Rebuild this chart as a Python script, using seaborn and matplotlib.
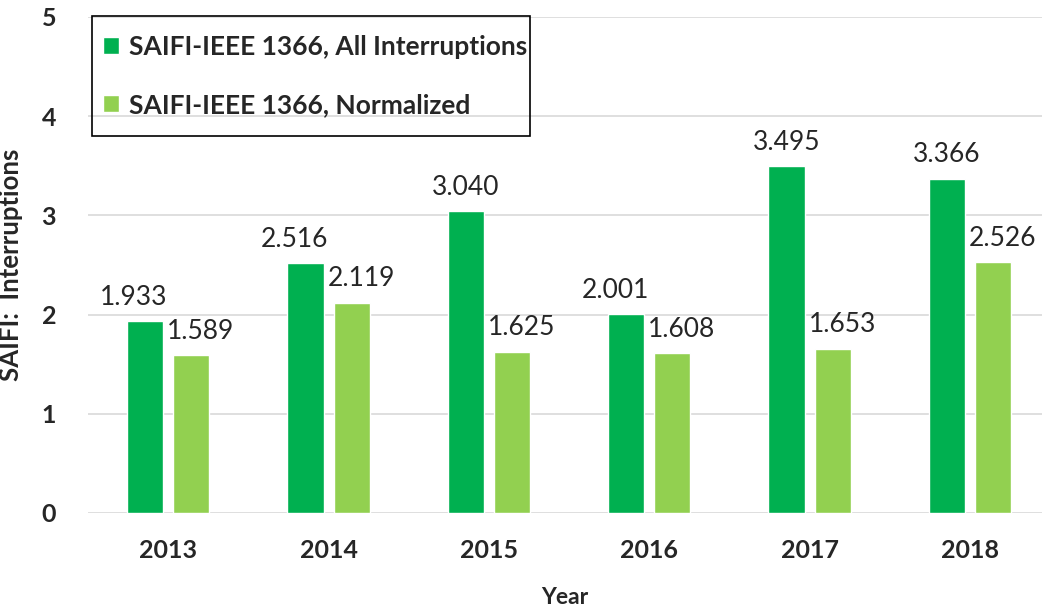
import numpy as np
import pandas as pd
import matplotlib
matplotlib.use("Agg")
import matplotlib.pyplot as plt
from matplotlib.patches import Rectangle
import seaborn as sns

years = ['2013', '2014', '2015', '2016', '2017', '2018']
all_interruptions = [1.933, 2.516, 3.040, 2.001, 3.495, 3.366]
normalized = [1.589, 2.119, 1.625, 1.608, 1.653, 2.526]
series_names = ['SAIFI-IEEE 1366, All Interruptions', 'SAIFI-IEEE 1366, Normalized']
series_colors = ['#00B050', '#92D050']

df = pd.DataFrame({
    'year': years * 2,
    'saifi': all_interruptions + normalized,
    'series': [series_names[0]] * len(years) + [series_names[1]] * len(years),
})

sns.set_theme(style="white")
plt.rcParams['font.family'] = ['Lato', 'DejaVu Sans']

fig = plt.figure(figsize=(10.42, 6.07), dpi=100)
ax = fig.add_axes([0.0845, 0.155, 0.9155, 0.817])

sns.barplot(data=df, x='year', y='saifi', hue='series', order=years,
            hue_order=series_names, palette=series_colors,
            width=0.575, gap=0.217, saturation=1, errorbar=None, ax=ax)

ax.set_ylim(0, 5)
ax.set_xlim(-0.5, 5.45)
ax.set_yticks(range(0, 6))
ax.yaxis.grid(True, color='#D9D9D9', linewidth=1.2)
ax.set_axisbelow(True)
for s in ax.spines.values():
    s.set_visible(False)
ax.tick_params(axis='both', length=0, labelsize=18)
ax.tick_params(axis='x', pad=19)
ax.tick_params(axis='y', pad=23)
for lbl in ax.get_xticklabels() + ax.get_yticklabels():
    lbl.set_fontweight('bold')

ax.set_xlabel('Year', fontsize=16.5, fontweight='bold', labelpad=18)
ax.set_ylabel('SAIFI:  Interruptions', fontsize=18.5, fontweight='bold', labelpad=13)

# value labels; push apart the pairs whose labels would collide
green_bars, light_bars = ax.containers[0], ax.containers[1]
for i, (gb, lb) in enumerate(zip(green_bars, light_bars)):
    close = abs(all_interruptions[i] - normalized[i]) < 0.5
    ax.annotate(f"{all_interruptions[i]:.3f}",
                (gb.get_x() + gb.get_width() / 2, gb.get_height()),
                xytext=(-8 if close else 0, 12), textcoords='offset points',
                ha='center', va='baseline', fontsize=19)
    ax.annotate(f"{normalized[i]:.3f}",
                (lb.get_x() + lb.get_width() / 2, lb.get_height()),
                xytext=(7, 12), textcoords='offset points',
                ha='center', va='baseline', fontsize=19)

handles, labels = ax.get_legend_handles_labels()
ax.get_legend().remove()
leg = ax.legend(handles, labels, loc='upper left',
                bbox_to_anchor=(103 / 1042, 1 - 35 / 607),
                bbox_transform=fig.transFigure,
                borderaxespad=0, borderpad=0, frameon=False,
                handlelength=0.62, handleheight=0.62, handletextpad=0.35,
                labelspacing=1.29, prop={'size': 19, 'weight': 'bold'})

# Excel-style legend box: tight on the right, roomy above and below
fig.canvas.draw()
bb = leg.get_window_extent()
W, H = fig.bbox.width, fig.bbox.height
x0, x1 = bb.x0 - 11, bb.x1 + 3
y0, y1 = bb.y0 - 19, bb.y1 + 19
fig.add_artist(Rectangle((x0 / W, y0 / H), (x1 - x0) / W, (y1 - y0) / H,
                         transform=fig.transFigure, facecolor='none',
                         edgecolor='black', linewidth=1.2, zorder=5))

fig.savefig('out.png', dpi=100)
